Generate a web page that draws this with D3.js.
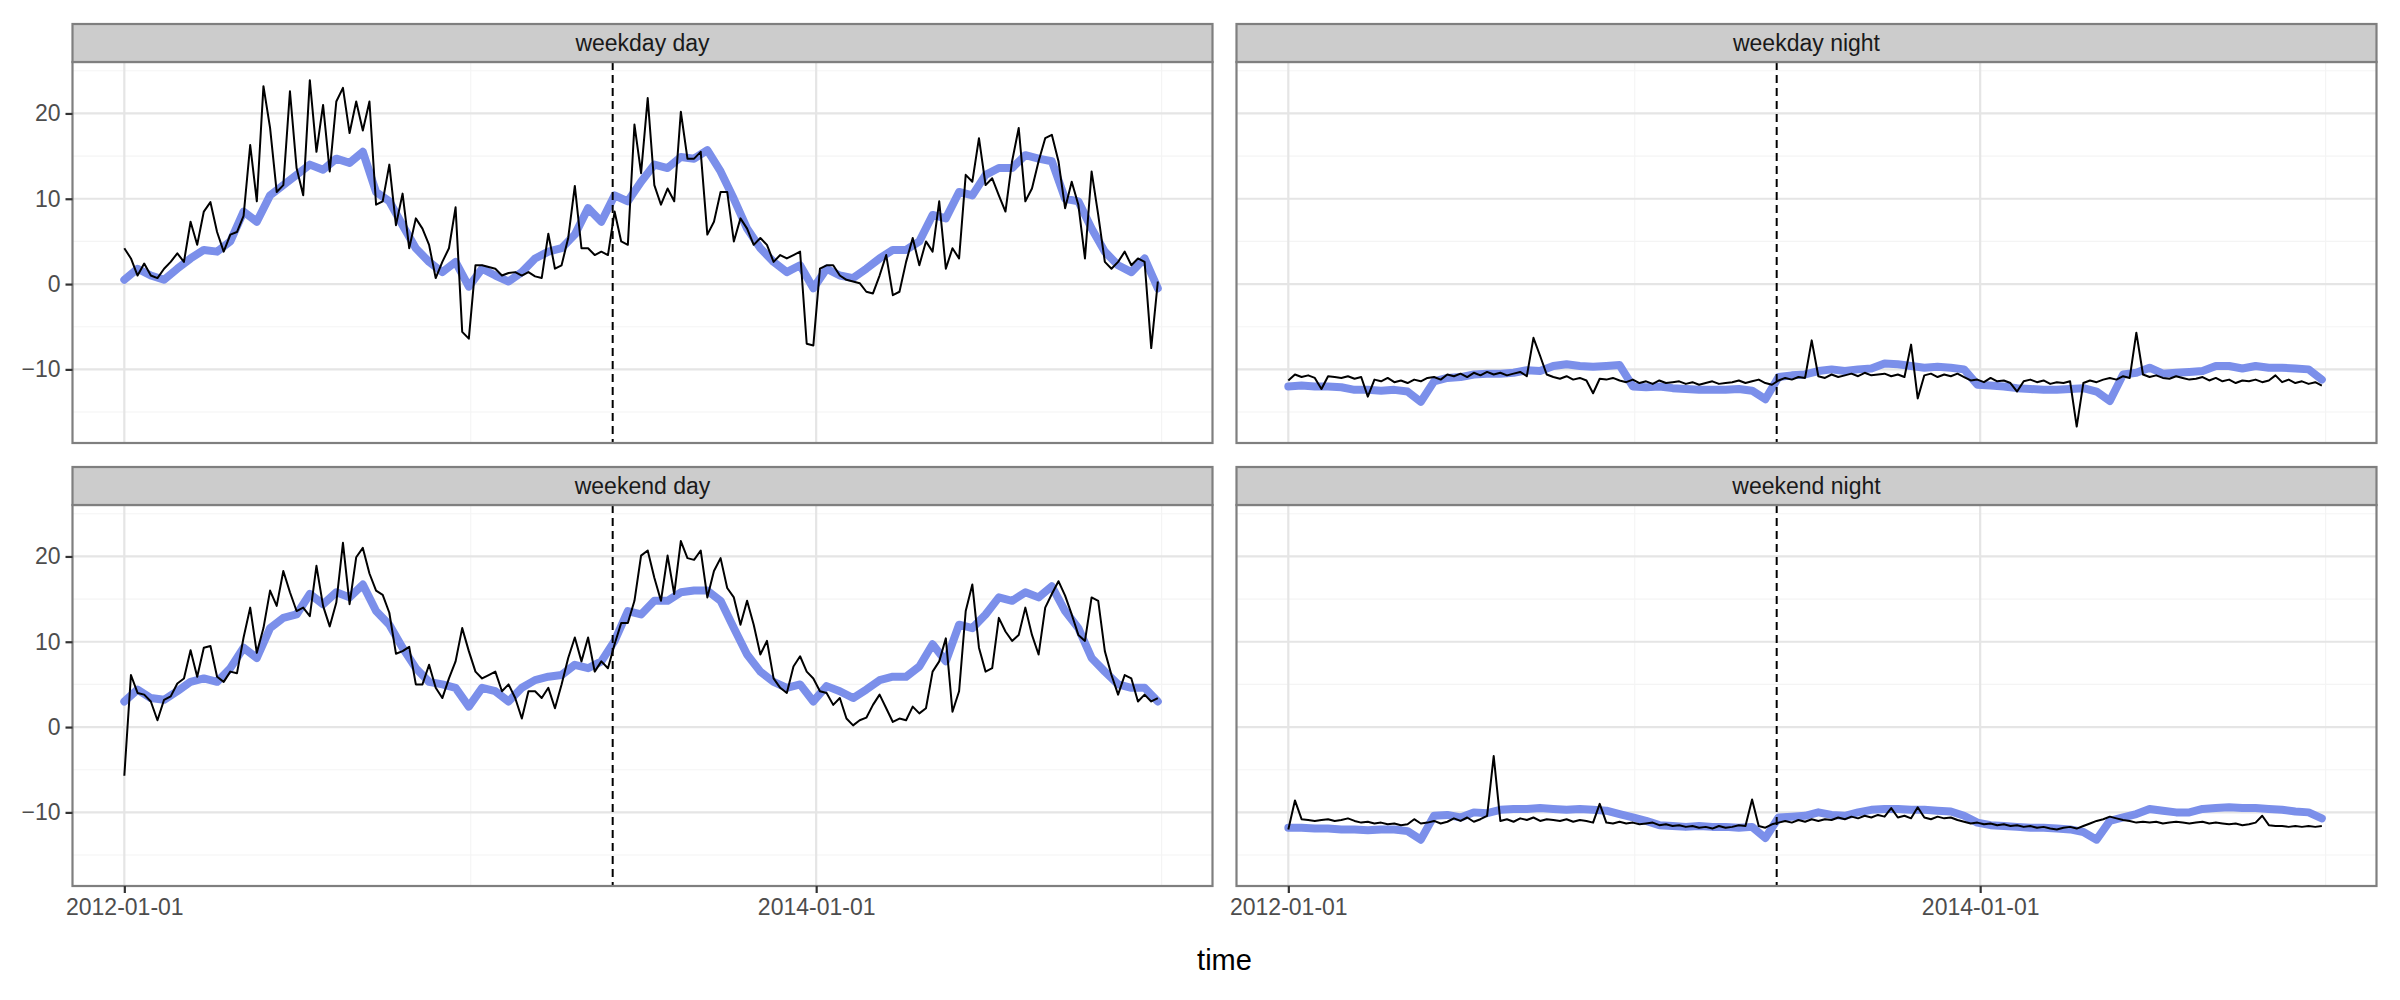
<!DOCTYPE html>
<html><head><meta charset="utf-8">
<script src="https://cdn.jsdelivr.net/npm/d3@7"></script>
<style>body{margin:0;background:#fff}</style>
</head><body>
<svg id="chart" width="2400" height="1000"></svg>
<script>
// ---------------- data ----------------
const panelNames = ["weekday day", "weekday night", "weekend day", "weekend night"];
const firstDate = "2012-01-01";       // first observation (weekly series)
const lastDate = "2014-12-31";        // last day of the data range
const observedStepDays = 7;           // black series: weekly
const smoothStepDays = 14;            // blue series: every two weeks
const markerDate = "2013-05-31";      // dashed vertical line
const xTickDates = ["2012-01-01", "2014-01-01"];
const xMinorDates = ["2013-01-01", "2015-01-01"];
const yTicks = [-10, 0, 10, 20];
const yMinorTicks = [-15, -5, 5, 15, 25];
const yLimits = [-16.6, 24.0];
const xTitle = "time";

const weekdayDayObserved = [
 4.2,3.0,1.0,2.4,1.0,0.7,1.8,2.6,3.6,2.6,
 7.3,4.6,8.5,9.6,6.1,3.8,5.8,6.1,8.0,16.3,
 9.7,23.2,18.3,10.8,11.6,22.6,13.6,10.4,23.9,15.5,
 21.0,13.2,21.4,23.0,17.7,21.4,18.0,21.4,9.3,9.7,
 14.0,6.9,10.6,4.2,7.7,6.5,4.6,0.7,2.6,4.2,
 9.0,-5.6,-6.4,2.2,2.2,2.0,1.8,1.0,1.3,1.4,
 1.0,1.4,0.9,0.7,5.9,1.8,2.2,5.4,11.5,4.2,
 4.2,3.4,3.8,3.4,8.5,5.0,4.6,18.7,13.0,21.8,
 11.6,9.3,11.2,9.7,20.2,14.7,14.7,15.5,5.8,7.3,
 10.8,10.8,5.0,7.7,6.5,4.6,5.4,4.6,2.6,3.4,
 3.0,3.4,3.8,-7.0,-7.2,1.8,2.2,2.2,1.0,0.5,
 0.3,0.1,-0.9,-1.1,1.0,3.4,-1.3,-0.9,2.6,5.4,
 2.2,5.0,3.8,9.7,1.8,4.2,3.0,12.8,12.0,17.1,
 11.6,12.4,10.4,8.5,14.4,18.3,9.7,11.2,14.4,17.1,
 17.5,14.4,8.9,12.0,9.3,3.0,13.2,8.1,2.6,1.8,
 2.6,3.8,2.2,3.0,2.6,-7.5,0.3];
const weekdayDaySmooth = [
 0.5,1.8,1.0,0.5,1.8,3.0,4.0,3.8,5.0,8.5,
 7.3,10.4,11.6,12.8,14.0,13.4,14.7,14.2,15.5,10.8,
 9.7,6.9,4.2,2.6,1.4,2.6,-0.3,1.8,1.0,0.3,
 1.4,3.0,3.8,4.2,5.8,8.9,7.3,10.4,9.7,12.0,
 14.0,13.6,14.9,14.7,15.7,13.2,10.0,6.5,4.2,2.6,
 1.4,2.2,-0.5,1.8,1.0,0.7,1.8,3.0,4.0,4.0,
 5.0,8.1,7.7,10.8,10.4,12.8,13.6,13.6,15.1,14.7,
 14.4,10.0,9.7,6.5,3.8,2.2,1.4,3.0,-0.5];

const weekdayNightObserved = [
 -11.3,-10.6,-10.9,-10.7,-11.0,-12.3,-10.8,-10.9,-11.0,-10.8,
 -11.1,-10.9,-13.2,-11.2,-11.4,-11.0,-11.5,-11.3,-11.6,-11.2,
 -11.4,-11.0,-10.9,-11.2,-10.6,-10.8,-10.5,-10.9,-10.4,-10.7,
 -10.3,-10.6,-10.4,-10.7,-10.5,-10.3,-10.8,-6.3,-8.4,-10.6,
 -10.9,-11.1,-10.8,-11.2,-11.0,-11.3,-12.8,-11.1,-11.2,-11.0,
 -11.3,-11.5,-11.2,-11.6,-11.4,-11.7,-11.3,-11.6,-11.5,-11.4,
 -11.7,-11.5,-11.8,-11.6,-11.4,-11.7,-11.6,-11.5,-11.3,-11.6,
 -11.4,-11.2,-11.6,-11.8,-11.3,-11.0,-11.2,-10.9,-11.0,-6.6,
 -10.8,-11.0,-10.6,-10.9,-10.7,-10.5,-10.8,-10.4,-10.7,-10.6,
 -10.5,-10.8,-10.6,-10.9,-7.1,-13.4,-10.7,-10.5,-10.9,-10.6,
 -10.8,-10.5,-10.9,-11.3,-11.2,-11.5,-11.0,-11.4,-11.3,-11.6,
 -12.6,-11.4,-11.2,-11.5,-11.3,-11.7,-11.5,-11.6,-11.4,-16.7,
 -11.6,-11.3,-11.5,-11.2,-11.0,-11.2,-10.8,-11.0,-5.7,-10.6,
 -10.9,-10.7,-11.0,-11.1,-10.8,-11.0,-11.2,-11.1,-10.9,-11.3,
 -11.0,-11.4,-11.2,-11.6,-11.3,-11.4,-11.2,-11.5,-11.3,-10.7,
 -11.5,-11.2,-11.6,-11.4,-11.7,-11.5,-11.9];
const weekdayNightSmooth = [
 -12.0,-11.9,-12.0,-12.0,-12.1,-12.4,-12.4,-12.5,-12.4,-12.6,
 -13.8,-11.4,-11.0,-10.9,-10.6,-10.5,-10.5,-10.4,-10.1,-10.2,
 -9.6,-9.4,-9.6,-9.7,-9.6,-9.5,-12.0,-12.1,-12.0,-12.2,
 -12.3,-12.4,-12.4,-12.4,-12.3,-12.5,-13.5,-10.9,-10.7,-10.6,
 -10.2,-10.0,-10.2,-10.0,-9.9,-9.3,-9.4,-9.6,-9.8,-9.7,
 -9.8,-10.0,-11.8,-11.9,-12.0,-12.2,-12.3,-12.4,-12.4,-12.3,
 -12.2,-12.6,-13.7,-10.6,-10.4,-9.8,-10.5,-10.4,-10.3,-10.2,
 -9.6,-9.6,-9.9,-9.6,-9.8,-9.8,-9.9,-10.0,-11.2];

const weekendDayObserved = [
 -5.7,6.1,4.0,3.8,3.0,0.8,3.2,3.6,5.1,5.7,
 9.0,5.9,9.3,9.5,5.9,5.3,6.5,6.3,10.5,14.0,
 8.7,11.6,16.0,14.2,18.3,15.8,13.6,14.0,13.0,18.9,
 14.2,11.8,14.6,21.6,14.4,19.9,21.0,18.0,16.0,15.5,
 13.4,8.6,8.9,9.4,5.0,5.0,7.3,4.6,3.4,5.7,
 7.7,11.6,8.9,6.5,5.7,6.1,6.5,4.2,5.0,3.4,
 1.0,4.2,4.2,3.4,4.6,2.2,5.0,8.1,10.5,7.7,
 10.5,6.5,7.7,6.9,9.7,12.2,12.2,14.8,
 20.1,20.7,17.5,14.8,20.1,15.6,21.8,19.8,19.6,20.7,
 15.2,18.3,19.8,16.3,15.2,12.0,14.8,12.0,8.5,10.1,
 5.7,4.6,4.0,7.1,8.3,6.5,5.7,4.2,4.0,2.6,
 3.4,1.0,0.2,0.8,1.1,2.6,3.8,2.2,0.6,1.0,
 0.8,2.4,1.6,2.2,6.5,7.7,10.4,1.8,4.2,13.6,
 16.7,9.3,6.5,6.9,12.8,11.2,10.1,10.8,14.0,10.8,
 8.5,14.0,15.6,17.1,15.4,13.2,10.8,10.1,15.2,14.8,
 8.9,6.1,3.8,6.1,5.7,3.0,3.8,3.0,3.4];
const weekendDaySmooth = [
 3.0,4.4,3.4,3.2,4.2,5.3,5.7,5.3,6.9,9.3,
 8.1,11.6,12.8,13.2,15.6,14.4,15.8,15.2,16.7,13.6,
 12.0,9.3,6.9,5.3,5.0,4.6,2.4,4.6,4.2,3.0,
 4.6,5.5,5.9,6.1,7.3,6.9,7.7,10.1,13.6,13.2,
 14.8,14.8,15.8,16.0,16.0,14.8,11.6,8.5,6.5,5.3,
 4.6,5.0,3.0,4.8,4.2,3.4,4.4,5.5,5.9,5.9,
 7.1,9.7,7.7,12.0,11.6,13.2,15.2,14.8,15.8,15.2,
 16.5,13.6,11.6,8.1,6.5,5.0,4.6,4.6,3.0];

const weekendNightObserved = [
 -12.0,-8.6,-10.8,-10.9,-11.0,-10.9,-10.8,-11.0,-10.9,-10.7,
 -11.0,-11.2,-11.1,-11.3,-11.2,-11.4,-11.3,-11.5,-11.4,-10.8,
 -11.3,-11.2,-11.0,-11.3,-11.1,-10.7,-11.0,-10.6,-11.1,-10.8,
 -10.4,-3.4,-11.0,-10.8,-11.1,-10.7,-10.9,-10.6,-11.0,-10.8,
 -10.9,-11.0,-10.8,-11.1,-10.9,-11.0,-11.2,-9.0,-11.2,-11.3,
 -11.1,-11.3,-11.2,-11.4,-11.3,-11.2,-11.5,-11.4,-11.6,-11.5,
 -11.7,-11.6,-11.8,-11.7,-11.9,-11.6,-11.8,-11.7,-11.5,-11.6,
 -8.5,-11.6,-11.8,-11.4,-11.2,-11.0,-11.2,-10.9,-11.1,-10.8,
 -11.0,-10.8,-10.9,-10.6,-10.8,-10.5,-10.7,-10.4,-10.6,-10.3,
 -10.5,-9.5,-10.6,-10.4,-10.7,-9.4,-10.6,-10.8,-10.5,-10.7,
 -10.6,-10.9,-11.1,-11.3,-11.2,-11.4,-11.3,-11.5,-11.4,-11.6,
 -11.5,-11.7,-11.6,-11.8,-11.7,-11.9,-12.0,-11.8,-11.7,-11.9,
 -11.6,-11.3,-11.0,-10.8,-10.5,-10.7,-10.9,-11.0,-11.2,-11.1,
 -11.2,-11.1,-11.3,-11.2,-11.1,-11.2,-11.3,-11.2,-11.1,-11.3,
 -11.2,-11.3,-11.4,-11.3,-11.5,-11.4,-11.2,-10.4,-11.5,-11.6,
 -11.6,-11.7,-11.6,-11.7,-11.6,-11.7,-11.6];
const weekendNightSmooth = [
 -11.8,-11.8,-11.9,-11.9,-12.0,-12.0,-12.1,-12.0,-12.0,-12.2,
 -13.2,-10.4,-10.3,-10.6,-10.0,-10.1,-9.7,-9.6,-9.6,-9.5,
 -9.6,-9.7,-9.6,-9.7,-9.8,-10.2,-10.6,-11.0,-11.5,-11.6,
 -11.7,-11.6,-11.7,-11.7,-11.8,-11.7,-13.0,-10.6,-10.5,-10.4,
 -10.0,-10.3,-10.4,-10.0,-9.7,-9.6,-9.6,-9.7,-9.7,-9.8,
 -9.9,-10.4,-11.2,-11.5,-11.6,-11.7,-11.8,-11.8,-11.9,-12.0,
 -12.3,-13.2,-11.0,-10.6,-10.2,-9.6,-9.8,-10.0,-10.0,-9.6,
 -9.5,-9.4,-9.5,-9.5,-9.6,-9.7,-9.9,-10.0,-10.7];

const observedSeries = [weekdayDayObserved, weekdayNightObserved, weekendDayObserved, weekendNightObserved];
const smoothSeries = [weekdayDaySmooth, weekdayNightSmooth, weekendDaySmooth, weekendNightSmooth];

// ---------------- layout ----------------
const W = 2400, H = 1000;
const colX = [72.5, 1236.5];
const rowY = [62, 505];
const pw = 1140, ph = 381, stripH = 38;
const blue = "#7b8fea";
const borderCol = "#7f7f7f";
const font = "'Liberation Sans', Arial, Helvetica, sans-serif";

const svg = d3.select("#chart").attr("font-family", font);
svg.append("rect").attr("width", W).attr("height", H).attr("fill", "#fff");

const parse = d3.utcParse("%Y-%m-%d");
const d0 = parse(firstDate), d1 = parse(lastDate);
const span = d1 - d0;
const x = d3.scaleUtc().domain([new Date(+d0 - 0.05 * span), new Date(+d1 + 0.05 * span)]).range([0, pw]);
const yr = yLimits[1] - yLimits[0];
const y = d3.scaleLinear().domain([yLimits[0] - 0.05 * yr, yLimits[1] + 0.05 * yr]).range([ph, 0]);

const line = d3.line().x(d => x(d.date)).y(d => y(d.value));
const defs = svg.append("defs");
defs.append("clipPath").attr("id", "clip").append("rect").attr("width", pw).attr("height", ph);

panelNames.forEach((name, i) => {
  const col = i % 2, row = Math.floor(i / 2);
  const g = svg.append("g").attr("transform", `translate(${colX[col]},${rowY[row]})`);
  g.append("rect").attr("width", pw).attr("height", ph).attr("fill", "#fff");
  // minor grid
  yMinorTicks.forEach(t => g.append("line").attr("x1", 0).attr("x2", pw).attr("y1", y(t)).attr("y2", y(t))
    .attr("stroke", "#f4f4f4").attr("stroke-width", 1.1));
  xMinorDates.map(parse).forEach(t => g.append("line").attr("x1", x(t)).attr("x2", x(t)).attr("y1", 0).attr("y2", ph)
    .attr("stroke", "#f4f4f4").attr("stroke-width", 1.1));
  // major grid
  yTicks.forEach(t => g.append("line").attr("x1", 0).attr("x2", pw).attr("y1", y(t)).attr("y2", y(t))
    .attr("stroke", "#e5e5e5").attr("stroke-width", 2.2));
  xTickDates.map(parse).forEach(t => g.append("line").attr("x1", x(t)).attr("x2", x(t)).attr("y1", 0).attr("y2", ph)
    .attr("stroke", "#e5e5e5").attr("stroke-width", 2.2));

  const sm = smoothSeries[i].map((v, k) => ({date: d3.utcDay.offset(d0, k * smoothStepDays), value: v}));
  const ob = observedSeries[i].map((v, k) => ({date: d3.utcDay.offset(d0, k * observedStepDays), value: v}));
  const pg = g.append("g").attr("clip-path", "url(#clip)");
  pg.append("path").datum(sm).attr("d", line).attr("fill", "none").attr("stroke", blue)
    .attr("stroke-width", 8).attr("stroke-linejoin", "round").attr("stroke-linecap", "round");
  pg.append("path").datum(ob).attr("d", line).attr("fill", "none").attr("stroke", "#000")
    .attr("stroke-width", 2).attr("stroke-linejoin", "round");
  const mx = x(parse(markerDate));
  pg.append("line").attr("x1", mx).attr("x2", mx).attr("y1", 0).attr("y2", ph)
    .attr("stroke", "#000").attr("stroke-width", 2).attr("stroke-dasharray", "8,5");

  g.append("rect").attr("width", pw).attr("height", ph).attr("fill", "none")
    .attr("stroke", borderCol).attr("stroke-width", 2.2);
  // strip
  g.append("rect").attr("y", -stripH).attr("width", pw).attr("height", stripH)
    .attr("fill", "#cccccc").attr("stroke", borderCol).attr("stroke-width", 2.2);
  g.append("text").attr("x", pw / 2).attr("y", -stripH / 2).attr("dy", "0.35em")
    .attr("text-anchor", "middle").attr("font-size", 23).attr("fill", "#1a1a1a").text(name);

  if (col === 0) {
    const ay = g.append("g").call(d3.axisLeft(y).tickValues(yTicks).tickSize(7).tickPadding(5).tickFormat(d3.format("d")));
    ay.select(".domain").remove();
    ay.selectAll("line").attr("stroke", "#333").attr("stroke-width", 2.2);
    ay.selectAll("text").attr("font-size", 23).attr("fill", "#4d4d4d").attr("font-family", font);
  }
  if (row === 1) {
    const ax = g.append("g").attr("transform", `translate(0,${ph})`)
      .call(d3.axisBottom(x).tickValues(xTickDates.map(parse)).tickSize(7).tickPadding(6).tickFormat(d3.utcFormat("%Y-%m-%d")));
    ax.select(".domain").remove();
    ax.selectAll("line").attr("stroke", "#333").attr("stroke-width", 2.2);
    ax.selectAll("text").attr("font-size", 23).attr("fill", "#4d4d4d").attr("font-family", font);
  }
});

svg.append("text").attr("x", (colX[0] + colX[1] + pw) / 2).attr("y", 970)
  .attr("text-anchor", "middle").attr("font-size", 29).attr("fill", "#000").text(xTitle);
</script>
</body></html>
